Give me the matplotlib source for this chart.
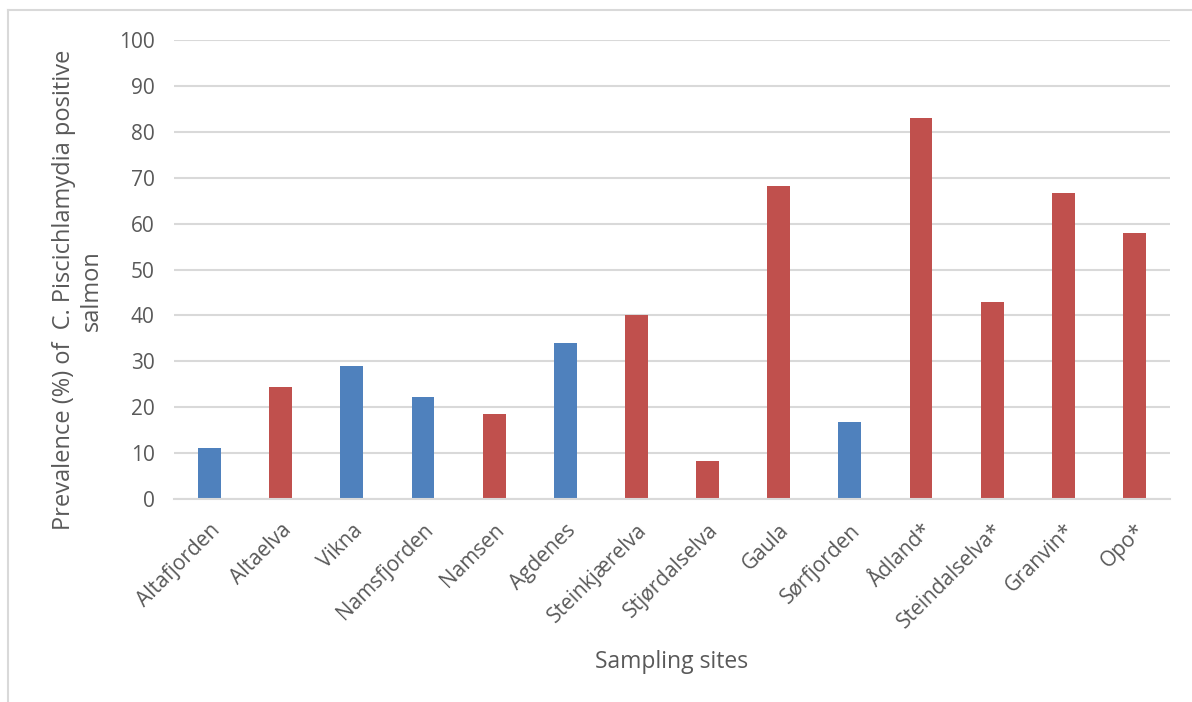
import matplotlib
matplotlib.use("Agg")
import matplotlib.pyplot as plt
from matplotlib.lines import Line2D

plt.rcParams['font.family'] = ['Open Sans', 'DejaVu Sans']

sites = ["Altafjorden", "Altaelva", "Vikna", "Namsfjorden", "Namsen", "Agdenes",
         "Steinkjærelva", "Stjørdalselva", "Gaula", "Sørfjorden", "Ådland*",
         "Steindalselva*", "Granvin*", "Opo*"]
prevalence = [11.1, 24.4, 29.0, 22.2, 18.5, 33.9, 40.0, 8.3, 68.3, 16.7, 83.0,
              42.9, 66.7, 58.0]
site_type = ["sea", "river", "sea", "sea", "river", "sea", "river", "river",
             "river", "sea", "river", "river", "river", "river"]
yticks = list(range(0, 101, 10))

type_colors = {"sea": "#4F81BD", "river": "#C0504D"}
text_color = "#595959"
grid_color = "#D9D9D9"

W, H = 1192, 702
fig = plt.figure(figsize=(W / 100, H / 100), dpi=100)
ax = fig.add_axes([174 / W, 1 - 499 / H, (1170 - 174) / W, (499 - 40) / H])

x = range(len(sites))
colors = [type_colors[t] for t in site_type]
ax.bar(x, prevalence, width=0.32, color=colors, zorder=3)

ax.set_xlim(-0.5, len(sites) - 0.5)
ax.set_ylim(0, 100)
ax.set_yticks(yticks)
ax.yaxis.grid(True, color=grid_color, linewidth=1.5, zorder=0)
for s in ["left", "right", "top"]:
    ax.spines[s].set_visible(False)
ax.spines["bottom"].set_color(grid_color)
ax.spines["bottom"].set_linewidth(1.5)
ax.spines["bottom"].set_zorder(4)
ax.tick_params(axis="both", length=0, labelsize=15, labelcolor=text_color)
ax.tick_params(axis="y", pad=14)
ax.tick_params(axis="x", pad=15)
ax.set_xticks(list(x))
ax.set_xticklabels(sites, rotation=45, ha="right", va="top", rotation_mode="anchor")

ax.set_xlabel("Sampling sites", fontsize=16.5, color=text_color, labelpad=12)
ax.set_ylabel("Prevalence (%) of  C. Piscichlamydia positive\nsalmon",
              fontsize=17, color=text_color, linespacing=1.25)
ax.yaxis.set_label_coords(-0.070, 0.455)

# light frame around the chart area
fig.add_artist(Line2D([8 / W, 8 / W], [0, 1 - 10 / H], transform=fig.transFigure,
                      color=grid_color, linewidth=1.5))
fig.add_artist(Line2D([8 / W, 1], [1 - 10 / H, 1 - 10 / H], transform=fig.transFigure,
                      color=grid_color, linewidth=1.5))

fig.savefig("out.png", dpi=100)
